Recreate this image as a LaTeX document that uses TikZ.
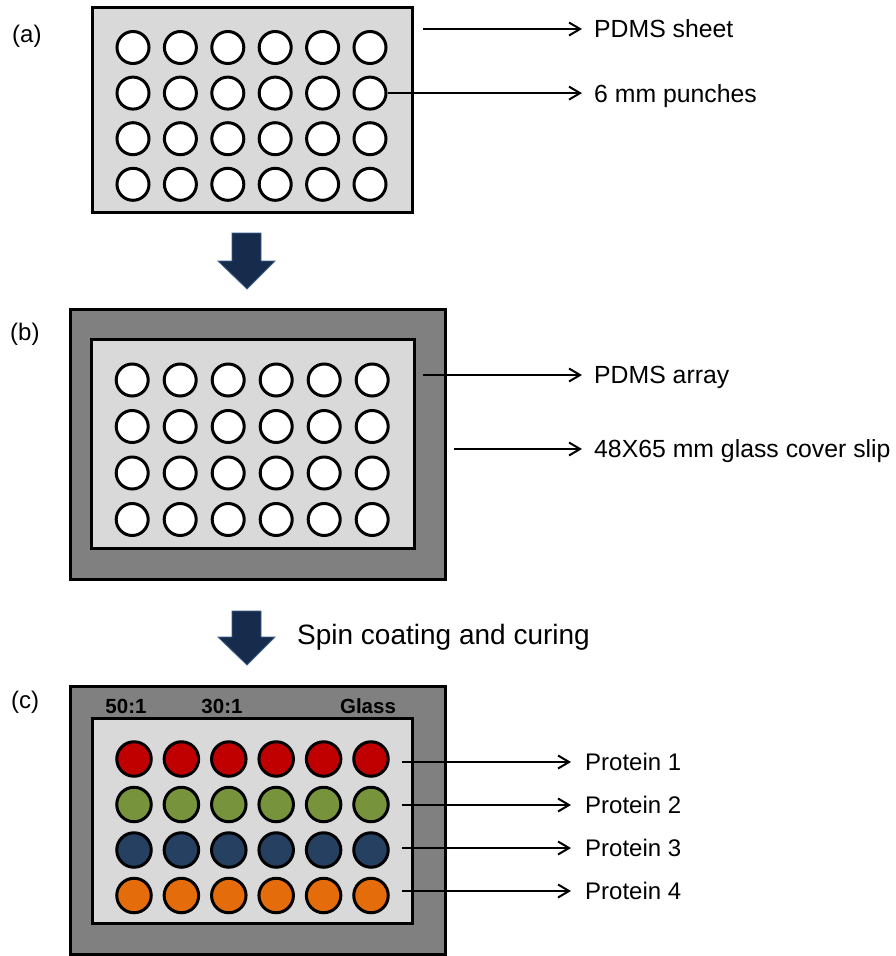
\documentclass[tikz,border=0pt]{standalone}
\usepackage{fontspec}
\setmainfont{Liberation Sans}
\usetikzlibrary{arrows.meta}
\definecolor{lgray}{HTML}{D9D9D9}
\definecolor{dgray}{HTML}{808080}
\definecolor{navy}{HTML}{172B4D}
\definecolor{navyedge}{HTML}{3E5F8F}
\definecolor{cred}{HTML}{C00000}
\definecolor{cgreen}{HTML}{77933C}
\definecolor{cblue}{HTML}{254061}
\definecolor{corange}{HTML}{E46C0A}
\begin{document}
\begin{tikzpicture}[x=1pt,y=-1pt,
  plate/.style={draw=black,line width=3pt},
  well/.style={circle,draw=black,line width=3pt,minimum size=32pt,inner sep=0pt,fill=white},
  cwell/.style={circle,draw=black,line width=3pt,minimum size=34.5pt,inner sep=0pt},
  conn/.style={draw=black,line width=2pt,-{Straight Barb[length=11pt,width=13pt,line width=2pt]}},
  lbl/.style={anchor=west,font=\fontsize{24.8}{28}\selectfont,text height=17.8pt,text depth=0pt,inner xsep=12pt,inner ysep=0pt},
  plbl/.style={anchor=west,font=\fontsize{24}{28}\selectfont,text height=17.2pt,text depth=0pt,inner xsep=14pt,inner ysep=0pt},
  panel/.style={anchor=base west,font=\fontsize{24}{28}\selectfont,inner sep=0pt},
  ratio/.style={anchor=base,font=\bfseries\fontsize{20.5}{24}\selectfont,inner sep=0pt},
  bigarrow/.style={fill=navy,draw=navyedge,line width=0.8pt}
]
\useasboundingbox (0,0) rectangle (896,956);

% ---------- (a) ----------
\node[panel] (la) at (12,42) {(a)};
\draw[plate,fill=lgray] (92,7) rectangle (412,212);
\foreach \r in {1,...,4}
  \foreach \c in {1,...,6}
    \node[well] (a\r\c) at ({133+47.4*(\c-1)},{47.5+45.6*(\r-1)}) {};
\coordinate (sa1) at (423,29);
\node[lbl] (ta1) at (582,29) {PDMS sheet};
\node[lbl] (ta2) at (582,93.1) {6 mm punches};
\draw[conn] (sa1) -- (ta1.west);
\draw[conn] (a26.east) -- (ta2.west);

% arrow 1
\draw[bigarrow] (232,233) -- (261,233) -- (261,261) -- (275,261) -- (247,289) -- (218,261) -- (232,261) -- cycle;

% ---------- (b) ----------
\node[panel] (lb) at (10,340) {(b)};
\draw[plate,fill=dgray] (70,309) rectangle (445,579);
\draw[plate,fill=lgray] (91,339) rectangle (414,548);
\foreach \r in {1,...,4}
  \foreach \c in {1,...,6}
    \node[well] (b\r\c) at ({132.2+48*(\c-1)},{380+46.5*(\r-1)}) {};
\coordinate (sb1) at (423,375);
\coordinate (sb2) at (454,449);
\node[lbl] (tb1) at (582,375) {PDMS array};
\node[lbl] (tb2) at (582,449) {48X65 mm glass cover slip};
\draw[conn] (sb1) -- (tb1.west);
\draw[conn] (sb2) -- (tb2.west);

% arrow 2
\draw[bigarrow] (232,611) -- (261,611) -- (261,637) -- (275,637) -- (247,665) -- (218,637) -- (232,637) -- cycle;
\node[anchor=base west,font=\fontsize{28}{32}\selectfont,inner sep=0pt] (spin) at (297,644) {Spin coating and curing};

% ---------- (c) ----------
\node[panel] (lc) at (11,708) {(c)};
\draw[plate,fill=dgray] (70,686) rectangle (445,954);
\draw[plate,fill=lgray] (92,718) rectangle (412,923);
\node[ratio] (r1) at (126,713) {50:1};
\node[ratio] (r2) at (222,713) {30:1};
\node[ratio] (r3) at (368,713) {Glass};
\foreach \r/\col in {1/cred,2/cgreen,3/cblue,4/corange}
  \foreach \c in {1,...,6}
    \node[cwell,fill=\col] (c\r\c) at ({134+47.4*(\c-1)},{759+45.5*(\r-1)}) {};
\foreach \r/\y in {1/762,2/805,3/848,4/891} {
  \coordinate (sc\r) at (402,\y);
  \node[plbl] (p\r) at (571,\y) {Protein \r};
  \draw[conn] (sc\r) -- (p\r.west);
}
\end{tikzpicture}
\end{document}
